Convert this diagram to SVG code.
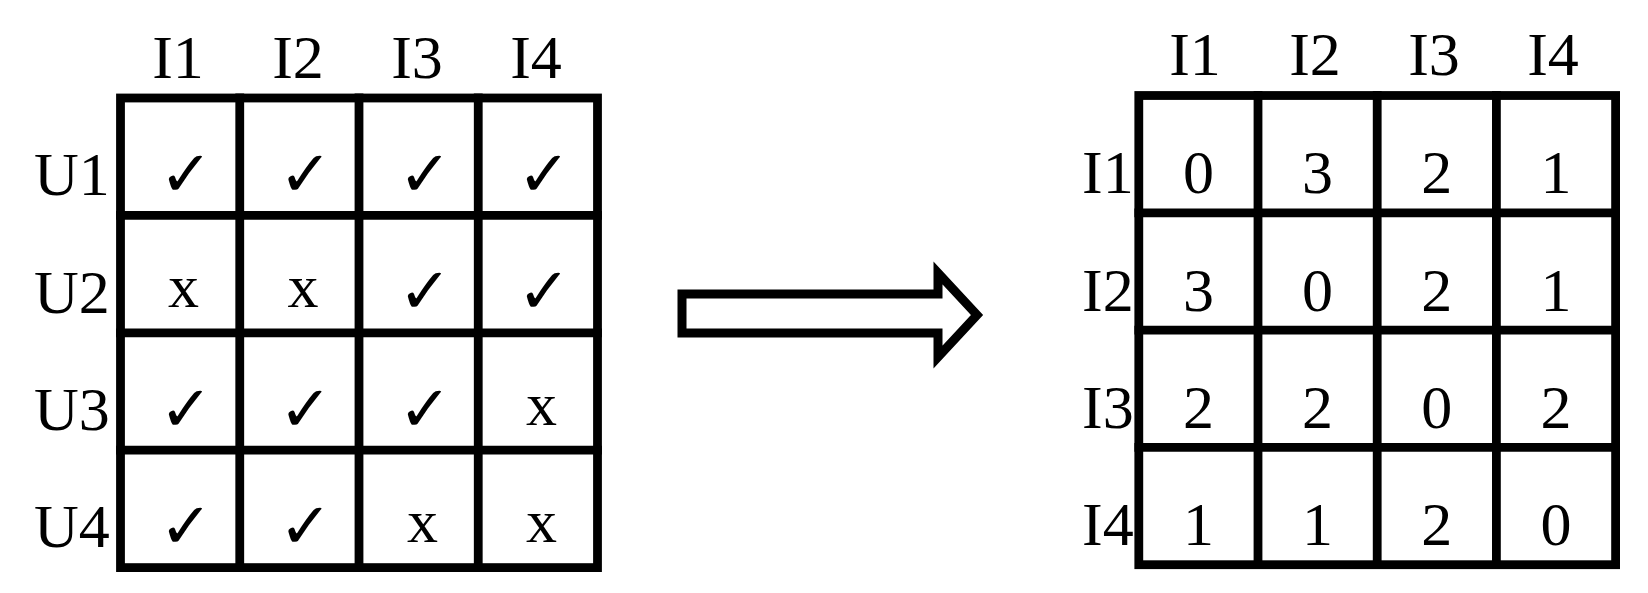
<svg xmlns="http://www.w3.org/2000/svg" width="1648" height="593" viewBox="0 0 1648 593">
<style>
.grid{fill:none;stroke:#000;stroke-width:8.8;stroke-linecap:square}
.lbl{font-family:"Liberation Serif","Times New Roman",serif;font-size:62px;fill:#000}
.num{font-family:"Liberation Serif","Times New Roman",serif;font-size:62px;fill:#000;text-anchor:middle}
.chk{font-family:"DejaVu Sans",sans-serif;font-size:64px;fill:#000;text-anchor:middle}
.hdr{font-family:"Liberation Serif","Times New Roman",serif;font-size:62px;fill:#000;text-anchor:middle}
.arrow{fill:#fff;stroke:#000;stroke-width:9;stroke-linejoin:miter}
</style>
<rect width="1648" height="593" fill="#fff"/>
<g id="user-item-matrix">
  <g class="grid">
    <rect x="120.5" y="98" width="477" height="469.6"/>
    <line x1="239.75" y1="98" x2="239.75" y2="567.6"/>
    <line x1="359" y1="98" x2="359" y2="567.6"/>
    <line x1="478.25" y1="98" x2="478.25" y2="567.6"/>
    <line x1="120.5" y1="215.4" x2="597.5" y2="215.4"/>
    <line x1="120.5" y1="332.8" x2="597.5" y2="332.8"/>
    <line x1="120.5" y1="450.2" x2="597.5" y2="450.2"/>
  </g>
  <g class="hdr">
    <text x="178" y="78">I1</text>
    <text x="298" y="78">I2</text>
    <text x="417" y="78">I3</text>
    <text x="536" y="78">I4</text>
  </g>
  <g class="lbl">
    <text x="34" y="195">U1</text>
    <text x="34" y="312.6">U2</text>
    <text x="34" y="430">U3</text>
    <text x="34" y="547.4">U4</text>
  </g>
  <g class="chk">
    <text x="186" y="196">✓</text>
    <text x="305.5" y="196">✓</text>
    <text x="425" y="196">✓</text>
    <text x="544" y="196">✓</text>
    <text x="425" y="313">✓</text>
    <text x="544" y="313">✓</text>
    <text x="186" y="430.5">✓</text>
    <text x="305.5" y="430.5">✓</text>
    <text x="425" y="430.5">✓</text>
    <text x="186" y="548">✓</text>
    <text x="305.5" y="548">✓</text>
  </g>
  <g class="num">
    <text x="183.5" y="307">x</text>
    <text x="303" y="307">x</text>
    <text x="541.5" y="424.5">x</text>
    <text x="422.5" y="542">x</text>
    <text x="541.5" y="542">x</text>
  </g>
</g>
<g id="item-item-matrix">
  <g class="grid">
    <rect x="1138.8" y="95.5" width="476.8" height="469.2"/>
    <line x1="1258" y1="95.5" x2="1258" y2="564.7"/>
    <line x1="1377.2" y1="95.5" x2="1377.2" y2="564.7"/>
    <line x1="1496.4" y1="95.5" x2="1496.4" y2="564.7"/>
    <line x1="1138.8" y1="212.8" x2="1615.6" y2="212.8"/>
    <line x1="1138.8" y1="330.1" x2="1615.6" y2="330.1"/>
    <line x1="1138.8" y1="447.4" x2="1615.6" y2="447.4"/>
  </g>
  <g class="hdr">
    <text x="1195" y="75">I1</text>
    <text x="1315" y="75">I2</text>
    <text x="1434" y="75">I3</text>
    <text x="1553" y="75">I4</text>
  </g>
  <g class="lbl">
    <text x="1082" y="193.2">I1</text>
    <text x="1082" y="310.5">I2</text>
    <text x="1082" y="427.8">I3</text>
    <text x="1082" y="545.1">I4</text>
  </g>
  <g class="num">
    <text x="1198.4" y="193.2">0</text>
    <text x="1317.6" y="193.2">3</text>
    <text x="1436.8" y="193.2">2</text>
    <text x="1556" y="193.2">1</text>
    <text x="1198.4" y="310.5">3</text>
    <text x="1317.6" y="310.5">0</text>
    <text x="1436.8" y="310.5">2</text>
    <text x="1556" y="310.5">1</text>
    <text x="1198.4" y="427.8">2</text>
    <text x="1317.6" y="427.8">2</text>
    <text x="1436.8" y="427.8">0</text>
    <text x="1556" y="427.8">2</text>
    <text x="1198.4" y="545.1">1</text>
    <text x="1317.6" y="545.1">1</text>
    <text x="1436.8" y="545.1">2</text>
    <text x="1556" y="545.1">0</text>
  </g>
</g>
<g id="connectors">
  <polygon class="arrow" points="682,294 938,294 938,273 977,315 938,357 938,333 682,333"/>
</g>
</svg>
